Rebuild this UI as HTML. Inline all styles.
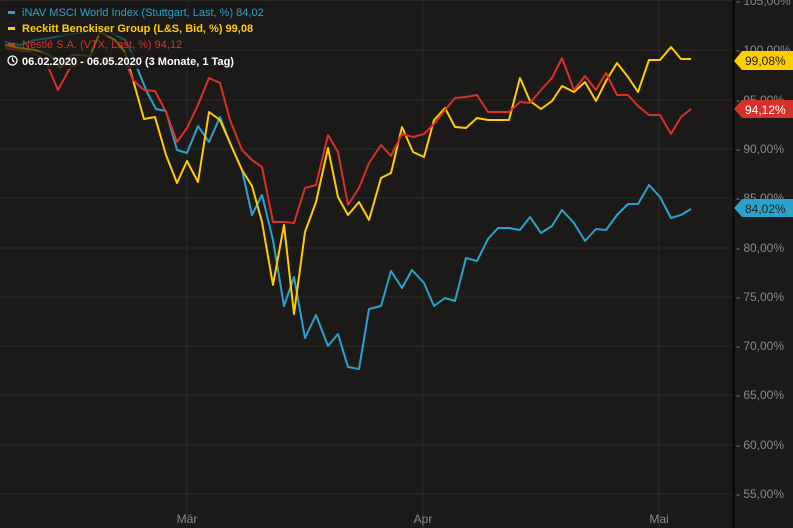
<!DOCTYPE html>
<html><head><meta charset="utf-8"><style>
body{margin:0;background:#1b1a19;}
svg{display:block;font-family:"Liberation Sans",sans-serif;}
</style></head><body>
<svg width="793" height="528" viewBox="0 0 793 528">
<rect width="793" height="528" fill="#1b1a19"/>
<g stroke="#2a2928" stroke-width="1">
<line x1="0" x2="733" y1="0.5" y2="0.5"/>
<line x1="0" x2="733" y1="50" y2="50"/>
<line x1="0" x2="733" y1="100" y2="100"/>
<line x1="0" x2="733" y1="149" y2="149"/>
<line x1="0" x2="733" y1="198" y2="198"/>
<line x1="0" x2="733" y1="248" y2="248"/>
<line x1="0" x2="733" y1="297" y2="297"/>
<line x1="0" x2="733" y1="346" y2="346"/>
<line x1="0" x2="733" y1="395" y2="395"/>
<line x1="0" x2="733" y1="445" y2="445"/>
<line x1="0" x2="733" y1="494" y2="494"/>
<line x1="187" x2="187" y1="0" y2="528"/>
<line x1="423" x2="423" y1="0" y2="528"/>
<line x1="659" x2="659" y1="0" y2="528"/>
</g>
<line x1="733.5" x2="733.5" y1="0" y2="528" stroke="#000" stroke-width="1.5"/>
<g fill="#8a8a8a" font-size="12">
<text x="736" y="5">- 105,00%</text>
<text x="736" y="54">- 100,00%</text>
<text x="736" y="104">- 95,00%</text>
<text x="736" y="153">- 90,00%</text>
<text x="736" y="202">- 85,00%</text>
<text x="736" y="252">- 80,00%</text>
<text x="736" y="301">- 75,00%</text>
<text x="736" y="350">- 70,00%</text>
<text x="736" y="399">- 65,00%</text>
<text x="736" y="449">- 60,00%</text>
<text x="736" y="498">- 55,00%</text>
<text x="187" y="523" text-anchor="middle">Mär</text>
<text x="423" y="523" text-anchor="middle">Apr</text>
<text x="659" y="523" text-anchor="middle">Mai</text>
</g>
<g fill="none" stroke-width="2" stroke-linejoin="round">
<polyline stroke="#2aa3cc" points="5,42 20,45 35,40 50,38 65,35 80,33 95,28 110,32 125,40 133,55 138,70 147,92 156,109 166,111 177,150 187,153 198,126 209,142 220,117 230,143 242,170 252,215 262,195 273,240 284,306 294,277 305,338 316,315 328,346 338,334 348,367 359,369 369,309 381,306 391,271 402,288 412,270 424,283 434,306 445,298 455,301 466,258 477,261 488,239 498,228 509,228 520,230 530,217 541,233 552,226 562,210 574,223 585,241 596,229 606,230 617,215 628,204 638,204 649,185 660,197 671,218 681,215 691,209"/>
<polyline stroke="#ffcc00" points="5,45 20,48 35,50 50,55 60,68 72,55 90,56 100,32 115,40 125,52 133,80 144,119 155,117 166,155 177,183 187,161 198,182 209,112 220,120 230,143 242,170 252,186 262,222 273,285 284,225 294,314 305,232 316,202 328,148 338,197 348,215 359,202 369,220 381,178 391,173 402,127 413,152 424,157 434,120 445,108 455,127 466,128 477,118 488,120 498,120 509,120 520,78 530,101 541,109 552,101 562,86 574,92 585,82 596,101 606,81 617,63 628,77 638,92 649,60 660,60 671,47 681,59 691,59"/>
<polyline stroke="#d9302a" points="5,48 30,52 45,60 58,90 70,68 85,62 100,60 115,62 125,60 133,80 144,90 155,91 166,112 177,142 187,128 198,105 209,78 220,83 230,120 242,150 252,160 262,167 273,222 284,222 294,223 305,188 316,185 328,135 338,152 348,205 359,188 369,163 381,145 391,156 402,134 413,137 424,134 434,124 445,110 455,98 466,97 477,95 488,112 498,112 509,112 520,102 530,103 541,90 552,78 562,58 574,90 585,76 596,90 606,73 617,95 628,95 638,106 649,115 660,115 671,134 681,117 691,109"/>
</g>
<polygon points="734,61 742,51 793,51 793,70 742,70" fill="#ffcc00"/>
<text x="745" y="65" font-size="12" fill="#222">99,08%</text>
<polygon points="734,109 742,100 793,100 793,118 742,118" fill="#d9302a"/>
<text x="745" y="114" font-size="12" fill="#fff">94,12%</text>
<polygon points="734,208 742,199 793,199 793,217 742,217" fill="#2aa3cc"/>
<text x="745" y="213" font-size="12" fill="#222">84,02%</text>
<g font-size="11">
<rect x="4" y="3" width="266" height="17" fill="#1b1a19" opacity="0.85"/>
<rect x="8" y="11" width="7" height="3" fill="#2aa3cc"/>
<text x="22" y="16" fill="#2aa3cc">iNAV MSCI World Index (Stuttgart, Last, %)  84,02</text>
<rect x="4" y="20" width="246" height="16" fill="#1b1a19" opacity="0.85"/>
<rect x="8" y="27" width="7" height="3" fill="#ffcc00"/>
<text x="22" y="32" fill="#ffcc00" font-weight="bold">Reckitt Benckiser Group (L&amp;S, Bid, %)  99,08</text>
<rect x="4" y="36" width="186" height="16" fill="#1b1a19" opacity="0.6"/>
<rect x="8" y="43" width="7" height="3" fill="#d9302a"/>
<text x="22" y="48" fill="#d9302a">Nestlé S.A. (VTX, Last, %)  94,12</text>
<rect x="4" y="52" width="240" height="17" fill="#1b1a19" opacity="0.85"/>
<circle cx="12.5" cy="60.5" r="4.5" fill="none" stroke="#fff" stroke-width="1.3"/>
<path d="M12.5 57.5V60.5L14.5 62" fill="none" stroke="#fff" stroke-width="1.2"/>
<text x="22" y="65" fill="#fff" font-weight="bold">06.02.2020 - 06.05.2020   (3 Monate, 1 Tag)</text>
</g>
</svg>
</body></html>
